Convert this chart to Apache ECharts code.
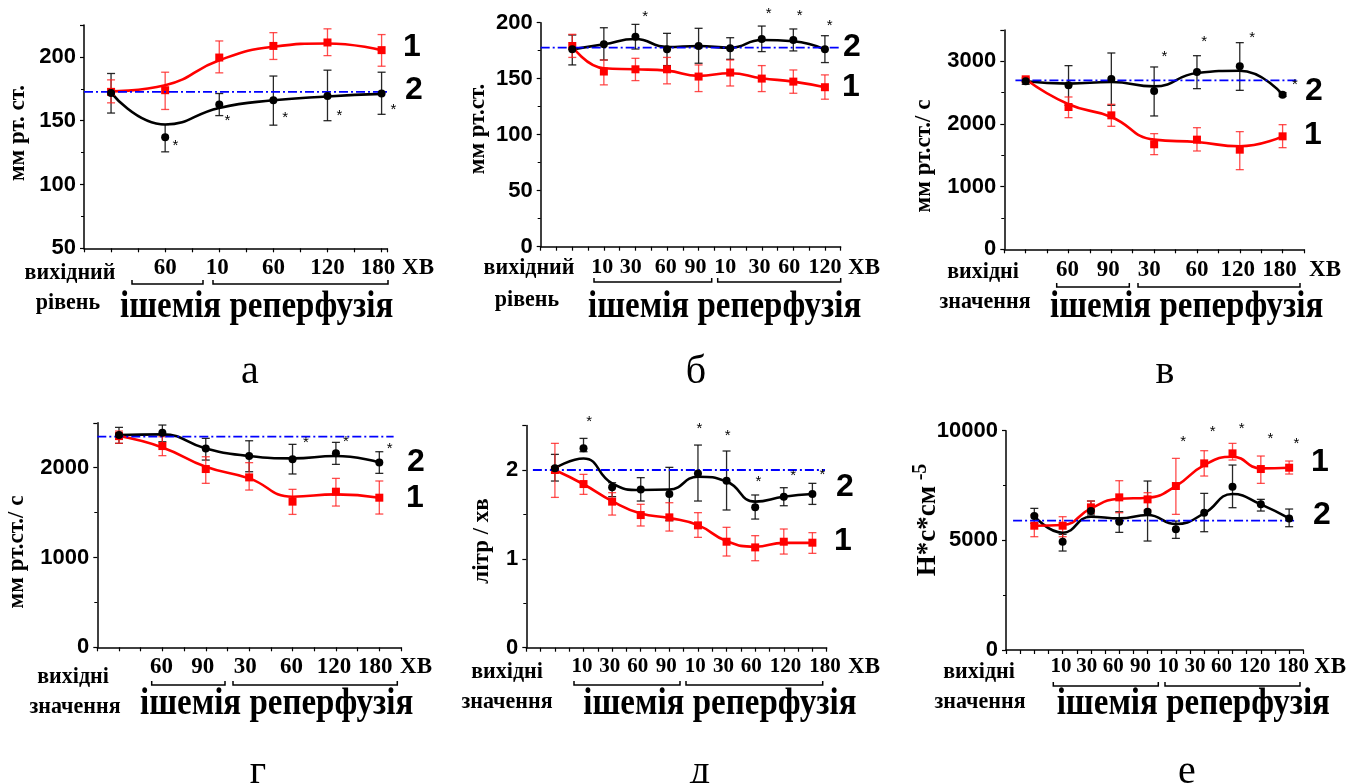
<!DOCTYPE html>
<html><head><meta charset="utf-8">
<script src="https://cdn.jsdelivr.net/npm/echarts@6/dist/echarts.min.js"></script>
<style>html,body{margin:0;padding:0;background:#fff}#c{width:1358px;height:783px}</style>
</head><body><div id="c"></div>
<script>
// ---------- DATA ----------
// Panel а
const xLabelsA = ['', '60', '10', '60', '120', '180'];
const redA = [172.6, 173.9, 199.5, 208.6, 211.3, 205.3];
const redLoA = [164, 158.8, 187.5, 198, 201, 192.7];
const redHiA = [182, 188, 212.5, 219, 222, 217.5];
const redCurveA = [173, 177.8, 197.4, 208, 210.5, 205.3];
const blackA = [171.8, 137, 162.7, 166, 169.4, 171.3];
const blackLoA = [156, 125.6, 154, 146.5, 150, 155];
const blackHiA = [187, 147, 171.3, 185, 189.6, 188];
const blackCurveA = [172, 147, 160, 166, 169, 171];
const starsA = [[1.19, 132.4], [2.15, 152], [3.22, 154.3], [4.22, 155.9], [5.22, 160.6]];
const baseA = [172.6, -0.5, 5.35];

// Panel б
const xLabelsB = ['', '10', '30', '60', '90', '10', '30', '60', '120'];
const redB = [179.2, 156.4, 158.4, 158.4, 151.9, 155.5, 150.1, 147.4, 142.4];
const redLoB = [169, 144.5, 148.3, 145.4, 138.5, 143.5, 138.5, 137, 131.7];
const redHiB = [189.6, 166.7, 168.2, 169, 162.3, 166.7, 161.7, 157.8, 153.4];
const redCurveB = [179, 159.3, 158.4, 157.2, 152.5, 154.9, 150.4, 147.4, 142.4];
const blackB = [176.2, 180.7, 187.5, 176.2, 179.2, 177.1, 185.4, 184.6, 176.2];
const blackLoB = [162.3, 166.7, 176.5, 161.7, 163.8, 167.3, 174.2, 174.8, 164.4];
const blackHiB = [189, 195.5, 198.5, 190.5, 195, 186.6, 197, 194.4, 188.4];
const blackCurveB = [176.2, 180.7, 185.4, 178.3, 179.2, 177.7, 184.6, 183.4, 176.2];
const starsB = [[2.31, 207.8], [6.22, 210.4], [7.2, 208.4], [8.15, 200]];
const baseB = [177.7, -1, 8.5];

// Panel в
const xLabelsC = ['', '60', '90', '30', '60', '120', '180'];
const redC = [2713, 2271, 2138, 1676, 1750, 1590, 1803];
const redLoC = [2680, 2101, 1963, 1511, 1569, 1271, 1622];
const redHiC = [2740, 2431, 2314, 1846, 1941, 1878, 1989];
const redCurveC = [2713, 2314, 2112, 1750, 1713, 1644, 1803];
const blackC = [2681, 2617, 2718, 2527, 2830, 2920, 2468];
const blackLoC = [2633, 2298, 2298, 2128, 2564, 2537, 2440];
const blackHiC = [2718, 2931, 3133, 2910, 3090, 3298, 2500];
const blackCurveC = [2681, 2644, 2670, 2601, 2814, 2850, 2468];
const starsC = [[3.24, 3123], [4.17, 3362], [5.29, 3415], [6.29, 2670]];
const baseC = [2697, -0.24, 6.36];

// Panel г
const xLabelsD = ['', '60', '90', '30', '60', '120', '180'];
const redD = [2352, 2241, 1985, 1892, 1622, 1733, 1666];
const redLoD = [2271, 2134, 1826, 1751, 1480, 1573, 1484];
const redHiD = [2408, 2345, 2122, 2056, 1759, 1881, 1852];
const redCurveD = [2352, 2226, 2011, 1881, 1677, 1703, 1666];
const blackD = [2364, 2390, 2215, 2130, 2093, 2160, 2059];
const blackLoD = [2271, 2289, 2085, 1955, 1930, 2037, 1937];
const blackHiD = [2449, 2475, 2327, 2300, 2260, 2282, 2178];
const blackCurveD = [2364, 2371, 2215, 2130, 2104, 2130, 2059];
const starsD = [[4.31, 2308], [5.23, 2320], [6.24, 2245]];
const baseD = [2345, -0.5, 6.33];

// Panel д
const xLabelsE = ['', '10', '30', '60', '90', '10', '30', '60', '120', '180'];
const redE = [2.0, 1.842, 1.644, 1.493, 1.467, 1.377, 1.193, 1.129, 1.193, 1.182];
const redLoE = [1.692, 1.726, 1.493, 1.370, 1.313, 1.242, 1.032, 0.979, 1.054, 1.062];
const redHiE = [2.3, 1.951, 1.745, 1.614, 1.632, 1.52, 1.355, 1.261, 1.336, 1.295];
const redCurveE = [2.0, 1.84, 1.65, 1.51, 1.46, 1.38, 1.2, 1.137, 1.18, 1.18];
const blackE = [2.019, 2.244, 1.805, 1.782, 1.730, 1.962, 1.880, 1.580, 1.700, 1.730];
const blackLoE = [1.876, 2.206, 1.700, 1.651, 1.43, 1.651, 1.55, 1.448, 1.598, 1.613];
const blackHiE = [2.176, 2.356, 1.857, 1.914, 2.03, 2.281, 2.214, 1.719, 1.801, 1.85];
const blackCurveE = [2.02, 2.13, 1.85, 1.775, 1.78, 1.925, 1.87, 1.644, 1.70, 1.73];
const starsE = [[1.2, 2.58], [5.05, 2.5], [6.04, 2.42], [7.11, 1.895], [8.33, 1.97], [9.35, 1.98]];
const baseE = [2.0, -0.77, 9.44];

// Panel е
const xLabelsF = ['', '10', '30', '60', '90', '10', '30', '60', '120', '180'];
const redF = [5668, 5668, 6504, 6960, 6869, 7477, 8510, 8966, 8252, 8313];
const redLoF = [5166, 5166, 6230, 6261, 6382, 6185, 7933, 8662, 7598, 8024];
const redHiF = [6154, 6078, 6793, 7720, 7173, 8738, 9088, 9422, 8845, 8617];
const redCurveF = [5668, 5698, 6458, 6899, 6945, 7477, 8434, 8814, 8282, 8313];
const blackF = [6109, 4939, 6337, 5850, 6306, 5501, 6261, 7446, 6641, 6002];
const blackLoF = [5775, 4513, 6154, 5364, 4969, 5090, 5394, 6489, 6337, 5622];
const blackHiF = [6458, 5273, 6793, 6306, 7705, 5881, 7142, 8434, 6869, 6428];
const blackCurveF = [6109, 5349, 6078, 6002, 6154, 5744, 6230, 7112, 6641, 6002];
const starsF = [[5.26, 9608], [6.3, 10064], [7.32, 10214], [8.34, 9758], [9.26, 9544]];
const baseF = [5896, -0.75, 9.26];

// ---------- LAYOUT ----------
const SERIF = 'Liberation Serif', SANS = 'Liberation Sans';
const panels = [
  {grid: [84, 25, 303, 223.3], xr: [-0.5, 5.1], yr: [50, 225, 50], lm: 8, lfs: 23,
   shift: [0, 0, -2, 0, 0, -3.5], labels: xLabelsA,
   red: redA, redLo: redLoA, redHi: redHiA, redCurve: redCurveA,
   black: blackA, blackLo: blackLoA, blackHi: blackHiA, blackCurve: blackCurveA, stars: starsA, base: baseA},
  {grid: [540.7, 22.7, 300, 224], xr: [-1, 8.5], yr: [0, 200, 50], lm: 10, lfs: 22,
   shift: [0, -1.6, -4.7, -1.3, -3, -5, -2.3, -4, 0], labels: xLabelsB,
   red: redB, redLo: redLoB, redHi: redHiB, redCurve: redCurveB,
   black: blackB, blackLo: blackLoB, blackHi: blackHiB, blackCurve: blackCurveB, stars: starsB, base: baseB},
  {grid: [1004.3, 30, 299.7, 219.3], xr: [-0.5, 6.5], yr: [0, 3500, 1000], lm: 9, lfs: 23,
   shift: [0, -1, -3, -5, 0, -2, -3], labels: xLabelsC,
   red: redC, redLo: redLoC, redHi: redHiC, redCurve: redCurveC,
   black: blackC, blackLo: blackLoC, blackHi: blackHiC, blackCurve: blackCurveC, stars: starsC, base: baseC},
  {grid: [97.3, 422.8, 303.7, 224.5], xr: [-0.5, 6.5], yr: [0, 2500, 1000], lm: 8, lfs: 23,
   shift: [0, -1, -3, -4, -1, -2, -4], labels: xLabelsD,
   red: redD, redLo: redLoD, redHi: redHiD, redCurve: redCurveD,
   black: blackD, blackLo: blackLoD, blackHi: blackHiD, blackCurve: blackCurveD, stars: starsD, base: baseD},
  {grid: [526.3, 425.6, 300.4, 222.1], xr: [-1, 9.5], yr: [0, 2.5, 1], lm: 8, lfs: 21,
   shift: [0, -1.6, -2.3, -3, -3, -2.7, -3, -4, 1.7, 12.7], labels: xLabelsE,
   red: redE, redLo: redLoE, redHi: redHiE, redCurve: redCurveE,
   black: blackE, blackLo: blackLoE, blackHi: blackHiE, blackCurve: blackCurveE, stars: starsE, base: baseE},
  {grid: [1006, 430.7, 297.3, 219.3], xr: [-1, 9.5], yr: [0, 10000, 5000], lm: 6, lfs: 21,
   shift: [0, -1.7, -4.3, -6, -7, -7.7, -9.3, -11, -6, 4], labels: xLabelsF,
   red: redF, redLo: redLoF, redHi: redHiF, redCurve: redCurveF,
   black: blackF, blackLo: blackLoF, blackHi: blackHiF, blackCurve: blackCurveF, stars: starsF, base: baseF}
];

const grids = [], xAxes = [], yAxes = [], series = [];

function errBars(color, opacity) {
  return function (params, api) {
    const x = api.value(0), lo = api.value(1), hi = api.value(2);
    const p1 = api.coord([x, lo]), p2 = api.coord([x, hi]);
    const st = {stroke: color, lineWidth: 1.3, opacity: opacity};
    return {type: 'group', children: [
      {type: 'line', shape: {x1: p1[0], y1: p1[1], x2: p2[0], y2: p2[1]}, style: st},
      {type: 'line', shape: {x1: p1[0] - 4, y1: p1[1], x2: p1[0] + 4, y2: p1[1]}, style: st},
      {type: 'line', shape: {x1: p2[0] - 4, y1: p2[1], x2: p2[0] + 4, y2: p2[1]}, style: st}
    ]};
  };
}
function starItem(params, api) {
  const p = api.coord([api.value(0), api.value(1)]);
  return {type: 'text', x: p[0], y: p[1] + 3,
    style: {text: '*', font: '15px ' + SANS, fill: '#000', align: 'center', verticalAlign: 'middle'}};
}

panels.forEach(function (P, i) {
  grids.push({left: P.grid[0], top: P.grid[1], width: P.grid[2], height: P.grid[3],
    containLabel: false, outerBoundsMode: 'none'});
  const labels = P.labels;
  const rich = {};
  P.shift.forEach(function (s, k) {
    rich['s' + k] = {fontFamily: SERIF, fontWeight: 'bold', fontSize: P.lfs, color: '#000',
      padding: [0, s < 0 ? -2 * s : 0, 0, s > 0 ? 2 * s : 0]};
  });
  xAxes.push({type: 'value', gridIndex: i, min: P.xr[0], max: P.xr[1], interval: 0.5,
    axisLine: {show: true, onZero: false, lineStyle: {color: '#000', width: 1.5}},
    axisTick: {show: true, inside: false, length: 4, lineStyle: {color: '#000', width: 1.2}},
    splitLine: {show: false},
    axisLabel: {show: true, margin: P.lm, color: '#000', fontFamily: SERIF, fontWeight: 'bold', fontSize: P.lfs,
      showMinLabel: true, showMaxLabel: true, rich: rich,
      formatter: function (v) {
        const r = Math.round(v);
        if (Math.abs(v - r) > 1e-6 || labels[r] === undefined || labels[r] === '') return '';
        return '{s' + r + '|' + labels[r] + '}';
      }}
  });
  const iv = P.yr[2];
  yAxes.push({type: 'value', gridIndex: i, min: P.yr[0], max: P.yr[1], interval: iv,
    axisLine: {show: true, onZero: false, lineStyle: {color: '#000', width: 1.5}},
    axisTick: {show: true, inside: false, length: 4, lineStyle: {color: '#000', width: 1.2}},
    minorTick: {show: true, splitNumber: 2, length: 3, lineStyle: {color: '#000', width: 1}},
    splitLine: {show: false},
    axisLabel: {show: true, margin: 8, color: '#000', fontFamily: SANS, fontWeight: 'bold', fontSize: 22,
      formatter: function (v) { const r = v / iv; return Math.abs(r - Math.round(r)) < 1e-6 ? String(Math.round(v * 100) / 100) : ''; }}
  });
  const idx = (arr) => arr.map((v, j) => [j, v]);
  series.push({type: 'custom', xAxisIndex: i, yAxisIndex: i, z: 2, renderItem: errBars('#111', 0.9),
    data: P.black.map((_, j) => [j, P.blackLo[j], P.blackHi[j]]), clip: false, silent: true});
  series.push({type: 'custom', xAxisIndex: i, yAxisIndex: i, z: 2, renderItem: errBars('#ff2020', 0.8),
    data: P.red.map((_, j) => [j, P.redLo[j], P.redHi[j]]), clip: false, silent: true});
  series.push({type: 'line', xAxisIndex: i, yAxisIndex: i, z: 3, smooth: 0.5, symbol: 'none',
    data: idx(P.blackCurve), lineStyle: {color: '#000', width: 2.6}, silent: true, animation: false});
  series.push({type: 'line', xAxisIndex: i, yAxisIndex: i, z: 3, smooth: 0.5, symbol: 'none',
    data: idx(P.redCurve), lineStyle: {color: '#ff0000', width: 2.6}, silent: true, animation: false});
  series.push({type: 'scatter', xAxisIndex: i, yAxisIndex: i, z: 4, symbol: 'rect', symbolSize: 8,
    data: idx(P.red), itemStyle: {color: '#ff0000', opacity: 1}, silent: true, animation: false});
  series.push({type: 'line', xAxisIndex: i, yAxisIndex: i, z: 5, symbol: 'none', clip: false,
    data: [[P.base[1], P.base[0]], [P.base[2], P.base[0]]],
    lineStyle: {color: '#0000ff', width: 1.8, type: [9, 3, 2, 3]}, silent: true, animation: false});
  series.push({type: 'scatter', xAxisIndex: i, yAxisIndex: i, z: 6, symbol: 'circle', symbolSize: 8,
    data: idx(P.black), itemStyle: {color: '#000', opacity: 1}, silent: true, animation: false});
  series.push({type: 'custom', xAxisIndex: i, yAxisIndex: i, z: 6, renderItem: starItem,
    data: P.stars, clip: false, silent: true});
});

// ---------- TEXT & BRACKETS ----------
const g = [];
function txt(x, y, s, font, align, rot, sy) {
  g.push({type: 'text', x: x, y: y, rotation: rot || 0, scaleY: sy || 1, silent: true,
    style: {text: s, font: font, fill: '#000', align: align || 'center', verticalAlign: 'middle'}});
}
function bracket(x1, x2, y) {
  g.push({type: 'polyline', silent: true, shape: {points: [[x1, y - 4], [x1, y], [x2, y], [x2, y - 4]]},
    style: {stroke: '#000', lineWidth: 1.5, fill: null}});
}
const fLab = 'bold 22px ' + SERIF, fBig = 'bold 33px ' + SERIF, fNum = 'bold 32px ' + SANS,
  fX = 'bold 23px ' + SERIF, fName = 'bold 23px ' + SERIF, fSub = '40px ' + SERIF;
const R = Math.PI / 2, SY = 1.15;
// а
txt(70, 273, 'вихідний', fLab, 'center', 0, 1.08); txt(68, 303, 'рівень', fLab, 'center', 0, 1.08);
txt(120, 307, 'ішемія реперфузія', fBig, 'left', 0, SY);
txt(418, 268, 'ХВ', fX); txt(412, 47, '1', fNum); txt(414, 90, '2', fNum);
bracket(132, 203, 284); bracket(213, 388, 284);
txt(18, 133, 'мм рт. ст.', fName, 'center', R);
// б
txt(529, 268, 'вихідний', fLab, 'center', 0, 1.08); txt(527, 300, 'рівень', fLab, 'center', 0, 1.08);
txt(588, 307, 'ішемія реперфузія', fBig, 'left', 0, SY);
txt(864, 268, 'ХВ', fX); txt(852, 47, '2', fNum); txt(851, 87, '1', fNum);
bracket(594, 711.7, 282); bracket(717.7, 840.7, 282);
txt(478, 129, 'мм рт.ст.', fName, 'center', R);
// в
txt(983, 272, 'вихідні', fLab, 'center', 0, 1.08); txt(985, 302, 'значення', fLab, 'center', 0, 1.08);
txt(1050, 307, 'ішемія реперфузія', fBig, 'left', 0, SY);
txt(1325, 270, 'ХВ', fX); txt(1314, 91, '2', fNum); txt(1313, 135, '1', fNum);
bracket(1056.7, 1129.3, 287); bracket(1138, 1300, 287);
txt(924, 156, 'мм рт.ст./ с', fName, 'center', R);
// г
txt(73, 677, 'вихідні', fLab, 'center', 0, 1.08); txt(75, 707, 'значення', fLab, 'center', 0, 1.08);
txt(140, 704, 'ішемія реперфузія', fBig, 'left', 0, SY);
txt(416, 667, 'ХВ', fX); txt(416, 462, '2', fNum); txt(415, 498, '1', fNum);
bracket(151.7, 225, 685); bracket(233, 397.3, 685);
txt(17, 552, 'мм рт.ст./ с', fName, 'center', R);
// д
txt(507, 672, 'вихідні', fLab, 'center', 0, 1.08); txt(507, 702, 'значення', fLab, 'center', 0, 1.08);
txt(583.3, 704, 'ішемія реперфузія', fBig, 'left', 0, SY);
txt(864, 667, 'ХВ', fX); txt(845, 487, '2', fNum); txt(843, 541, '1', fNum);
bracket(574, 680, 685); bracket(686, 822.7, 685);
txt(482, 541, 'літр / хв', fName, 'center', R);
// е
txt(979, 672, 'вихідні', fLab, 'center', 0, 1.08); txt(980, 702, 'значення', fLab, 'center', 0, 1.08);
txt(1056.7, 704, 'ішемія реперфузія', fBig, 'left', 0, SY);
txt(1330, 667, 'ХВ', fX); txt(1320, 462, '1', fNum); txt(1322, 515, '2', fNum);
bracket(1053.3, 1158.3, 686); bracket(1165, 1300, 686);
txt(928, 531, 'Н*с*см', 'bold 27px ' + SERIF, 'center', R);
txt(921, 472, '-5', 'bold 20px ' + SERIF, 'center', R);
// subtitles
txt(250, 372, 'а', fSub); txt(696, 372, 'б', fSub); txt(1165, 372, 'в', fSub);
txt(258, 772, 'г', fSub); txt(700, 772, 'д', fSub); txt(1187, 772, 'е', fSub);

const chart = echarts.init(document.getElementById('c'), null, {renderer: 'canvas'});
chart.setOption({
  backgroundColor: '#fff', animation: false,
  grid: grids, xAxis: xAxes, yAxis: yAxes, series: series, graphic: g
});
</script></body></html>
